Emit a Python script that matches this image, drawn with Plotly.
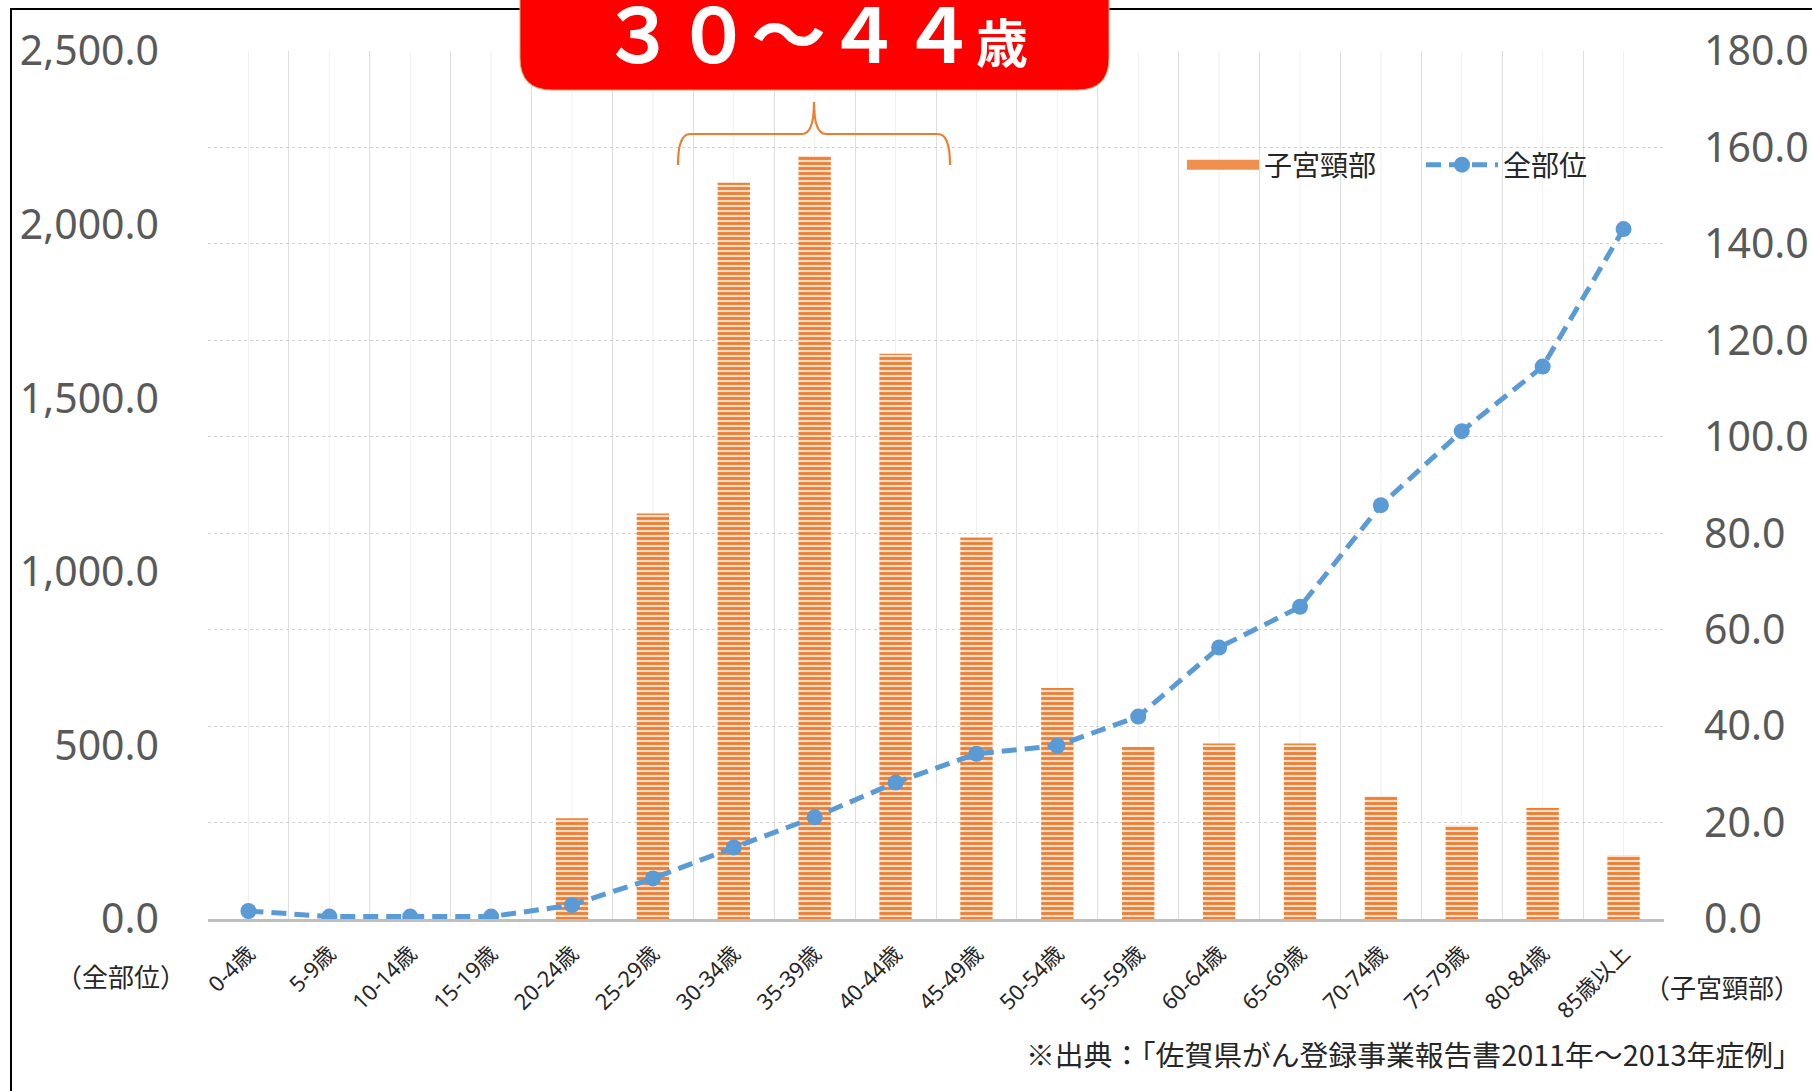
import plotly.graph_objects as go

# Age groups
age_groups = ["0-4歳", "5-9歳", "10-14歳", "15-19歳", "20-24歳", "25-29歳",
              "30-34歳", "35-39歳", "40-44歳", "45-49歳", "50-54歳", "55-59歳",
              "60-64歳", "65-69歳", "70-74歳", "75-79歳", "80-84歳", "85歳以上"]

# Incidence of cervical cancer (right axis)
cervix = [0, 0, 0, 0, 20.9, 84.1, 152.7, 158.2, 117.2, 79.1, 47.9, 35.7,
          36.4, 36.4, 25.4, 19.4, 23.0, 13.2]

# Incidence of all sites (left axis)
all_sites = [23, 7, 7, 7, 40, 117, 206, 293, 393, 476, 499, 583,
             782, 899, 1192, 1405, 1591, 1987]

left_ticks = [0, 500, 1000, 1500, 2000, 2500]
right_ticks = [0, 20, 40, 60, 80, 100, 120, 140, 160, 180]

W, H = 1812, 1091
L, R, T, B = 208, 148, 51, 172
PW, PH = W - L - R, H - T - B


def px(x, y):
    """Pixel position on the page -> paper coordinates."""
    return (x - L) / PW, 1 - (y - T) / PH


FONT = "Noto Sans, Noto Sans CJK JP, sans-serif"
CJK = "Noto Sans CJK JP, sans-serif"
ORANGE = "#ED7D31"
BLUE = "#5B9BD5"

fig = go.Figure()

fig.add_trace(go.Bar(
    x=age_groups, y=cervix, name="子宮頸部", yaxis="y",
    width=0.4, showlegend=False,
    marker=dict(color="#FBDDC8", line=dict(width=0),
                pattern=dict(shape="-", fgcolor=ORANGE, bgcolor="#FBDDC8",
                             size=5, solidity=0.55, fillmode="replace")),
))

# Legend entry for the bars (wide swatch)
fig.add_trace(go.Scatter(
    x=[None], y=[None], name="子宮頸部", yaxis="y", mode="lines",
    line=dict(color="#F0904E", width=16), hoverinfo="skip",
))

fig.add_trace(go.Scatter(
    x=age_groups, y=all_sites, name="全部位", yaxis="y2",
    mode="lines+markers",
    line=dict(color=BLUE, width=5, dash="15px,8px"),
    marker=dict(color=BLUE, size=16),
))

shapes = []

# Outer frame of the chart
x0, y1 = px(11, 9)
shapes.append(dict(type="rect", xref="paper", yref="paper",
                   x0=x0, x1=1.3, y0=-0.4, y1=y1,
                   line=dict(color="#000000", width=2), layer="below"))

# Light gridlines through the category centres
for cat in age_groups:
    shapes.append(dict(type="line", xref="x", yref="paper", x0=cat, x1=cat,
                       y0=0, y1=1, line=dict(color="#F0F0F0", width=1),
                       layer="below"))

# Red title box with rounded bottom corners
bx0, by1 = px(520, -20)
bx1, by0 = px(1109, 90)
rx, ry = 32 / PW, 32 / PH
box_path = (f"M {bx0},{by1} L {bx0},{by0 + ry} Q {bx0},{by0} {bx0 + rx},{by0} "
            f"L {bx1 - rx},{by0} Q {bx1},{by0} {bx1},{by0 + ry} L {bx1},{by1} Z")
shapes.append(dict(type="path", xref="paper", yref="paper", path=box_path,
                   fillcolor="#FF0000", line=dict(color="#F0A060", width=1),
                   layer="above"))

# Curly brace over the 30-44 groups
ex0, ey = px(678, 165)
ex1, _ = px(950, 165)
mx, hy = px(814, 134)
_, ty = px(814, 102)
cr = 12 / PW
brace = (f"M {ex0},{ey} Q {ex0},{hy} {ex0 + cr},{hy} "
         f"L {mx - cr},{hy} Q {mx},{hy} {mx},{ty} "
         f"Q {mx},{hy} {mx + cr},{hy} "
         f"L {ex1 - cr},{hy} Q {ex1},{hy} {ex1},{ey}")
shapes.append(dict(type="path", xref="paper", yref="paper", path=brace,
                   line=dict(color=ORANGE, width=2.2)))

annotations = []
tx, tyy = px(814, 30)
annotations.append(dict(
    xref="paper", yref="paper", x=tx, y=tyy, xanchor="center", yanchor="middle",
    text="<b>３０～４４<span style='font-size:52px'>歳</span></b>",
    showarrow=False, font=dict(family=CJK, size=75, color="#FFFFFF")))

ax, ay = px(121, 976)
annotations.append(dict(xref="paper", yref="paper", x=ax, y=ay,
                        xanchor="center", yanchor="middle", text="（全部位）",
                        showarrow=False,
                        font=dict(family=CJK, size=26, color="#262626")))
ax, ay = px(1722, 986)
annotations.append(dict(xref="paper", yref="paper", x=ax, y=ay,
                        xanchor="center", yanchor="middle", text="（子宮頸部）",
                        showarrow=False,
                        font=dict(family=CJK, size=26, color="#262626")))
ax, ay = px(1024, 1053)
annotations.append(dict(xref="paper", yref="paper", x=ax, y=ay,
                        xanchor="left", yanchor="middle",
                        text="※出典：「佐賀県がん登録事業報告書2011年～2013年症例」",
                        showarrow=False,
                        font=dict(family=CJK, size=28.8, color="#262626")))

lx, ly = px(1182, 165)

fig.update_layout(
    width=W, height=H,
    margin=dict(l=L, r=R, t=T, b=B, pad=0, autoexpand=False),
    paper_bgcolor="#FFFFFF", plot_bgcolor="#FFFFFF",
    font=dict(family=FONT),
    showlegend=True,
    legend=dict(orientation="h", x=lx, y=ly, xanchor="left", yanchor="middle",
                font=dict(family=CJK, size=28, color="#262626"),
                bgcolor="rgba(0,0,0,0)", itemwidth=72, traceorder="normal",
                entrywidth=152, entrywidthmode="pixels"),
    xaxis=dict(type="category", tickson="boundaries", showgrid=True,
               gridcolor="#DDDDDD", gridwidth=1, automargin=False,
               showline=True, linecolor="#BFBFBF", linewidth=3,
               ticks="", tickangle=-45, ticklabelstandoff=10,
               tickfont=dict(family=FONT, size=22, color="#262626"),
               range=[-0.5, 17.5], zeroline=False),
    yaxis=dict(side="right", range=[0, 180], tickvals=right_ticks,
               tickformat=".1f", showgrid=True, gridcolor="#D0D0D0",
               griddash="dot", gridwidth=1, zeroline=False, showline=False,
               ticks="", ticklabelstandoff=39, automargin=False,
               tickfont=dict(family=FONT, size=41, color="#595959")),
    yaxis2=dict(side="left", overlaying="y", range=[0, 2500],
                tickvals=left_ticks, tickformat=",.1f", showgrid=False,
                zeroline=False, showline=False, ticks="", automargin=False,
                ticklabelstandoff=48,
                tickfont=dict(family=FONT, size=41, color="#595959")),
    bargap=0.6,
    shapes=shapes,
    annotations=annotations,
)

fig.write_html("out.html")
